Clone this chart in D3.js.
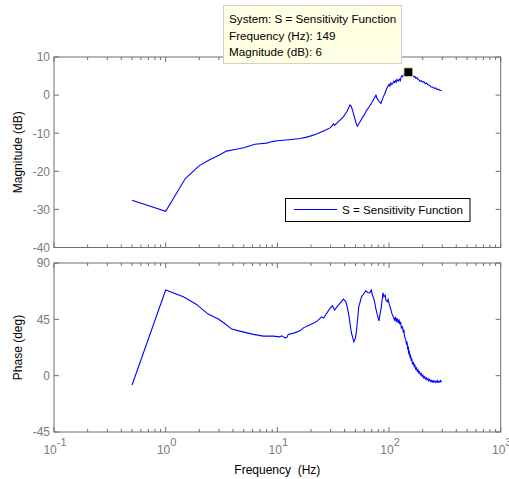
<!DOCTYPE html>
<html>
<head>
<meta charset="utf-8">
<script src="https://cdn.jsdelivr.net/npm/d3@7"></script>
<style>
  html, body { margin: 0; padding: 0; background: #fff; }
  svg { display: block; font-family: Arial, "Liberation Sans", sans-serif; }
</style>
</head>
<body>
<svg id="chart" width="509" height="479"></svg>
<script>
// ---------- data ----------
const seriesName = "S = Sensitivity Function";

const magFreq = [0.5, 1.0, 1.5, 2.0, 2.5, 3.0, 3.5, 4.3, 5.0, 6.3, 8.0, 9.0, 10, 12, 14, 16, 18, 20,
  22.5, 25, 27.5, 29.6, 31, 31.8, 32.5, 33.5, 36, 39, 42, 44.7, 46, 47.8, 50, 52, 54, 57, 60, 63, 66,
  70, 73, 76.4, 78, 81, 84.6, 88, 91.9, 95, 100, 102, 104, 106, 108, 110, 112, 114, 116, 118, 121,
  124, 126, 128, 130, 133, 135, 138, 141, 145, 149, 156, 160, 163, 167, 170, 174, 178, 182, 186, 190,
  195, 200, 205, 211, 217, 223, 230, 237, 245, 252, 260, 268, 278, 287, 296];
const magDb = [-27.6, -30.5, -21.9, -18.5, -16.9, -15.8, -14.7, -14.2, -13.8, -12.9, -12.6, -12.2, -12.0,
  -11.8, -11.6, -11.4, -11.1, -10.7, -10.2, -9.6, -9.1, -8.6, -8.0, -7.5, -7.9, -7.6, -6.7, -5.7, -4.3,
  -2.6, -3.0, -4.6, -6.8, -8.2, -7.4, -6.2, -5.2, -4.0, -3.2, -2.0, -1.0, 0.0, -0.8, -1.6, -2.2, -0.8,
  0.5, 1.6, 2.8, 2.4, 3.2, 2.8, 3.0, 3.6, 3.3, 3.8, 3.4, 4.1, 3.7, 4.2, 3.8, 4.6, 5.1, 4.8, 5.4, 5.2,
  5.8, 5.6, 6.0, 5.4, 5.0, 5.2, 4.7, 4.9, 4.4, 4.6, 4.1, 4.0, 3.6, 3.8, 3.4, 3.5, 3.0, 3.2, 2.7, 2.6,
  2.2, 2.1, 1.8, 1.9, 1.5, 1.5, 1.2, 1.2];

const phaseFreq = [0.5, 1.0, 1.44, 1.89, 2.4, 2.96, 3.4, 3.9, 4.6, 6.1, 7.5, 9.2, 10.5, 11.0, 11.7, 12.2,
  12.5, 14, 15.9, 17.1, 19, 21.7, 23, 24.9, 26, 27.5, 29.6, 31.1, 32.6, 34.5, 37, 39, 41.1, 42.5, 43.9,
  45, 46.2, 48.4, 50, 51.2, 53.6, 56.7, 59, 62, 64.5, 67.2, 69.5, 71, 72.5, 74.3, 76, 78, 80, 81.3, 83,
  85.4, 88.3, 90, 92.4, 94, 96.5, 98, 100, 103, 106, 109, 112, 114, 116, 118, 121, 123, 125, 127, 129,
  132, 134, 136, 138, 141, 143, 145, 147, 149, 150, 152, 154, 156, 158, 160, 162, 165, 168, 170, 173,
  176, 179, 182, 185, 188, 191, 194, 198, 201, 205, 208, 212, 215, 219, 223, 227, 231, 236, 240, 244,
  248, 252, 256, 261, 265, 269, 272, 276, 280, 284, 288, 292, 296];
const phaseDeg = [-7.5, 68.4, 63, 56.9, 49.2, 45.2, 41.5, 37.2, 35.6, 33, 31.6, 31.6, 31.0, 31.8, 30.2,
  30.6, 33, 34, 35.8, 38.2, 40, 42.5, 44, 47, 46, 49.5, 53.7, 55.8, 52.4, 55.5, 58.5, 61.2, 59, 54, 47,
  40, 33.7, 27, 30, 36.4, 55, 63, 65, 67.8, 66.5, 66.2, 68.4, 64, 62.5, 59, 54, 49.7, 46, 43.8, 49,
  55, 66.2, 63, 64.4, 60, 59, 61, 57.7, 54, 49.7, 47, 44.4, 47, 43, 46, 42, 45, 41, 43, 38,
  39, 35, 36, 31, 29, 25.7, 26.5, 21.5, 22.5, 18, 19, 15, 16, 12.4, 13.2, 9.5, 10.5, 7.5, 8.5, 5.5,
  6.3, 3.8, 4.6, 2.2, 3.0, 0.8, 1.6, -0.6, 0.4, -1.8, -0.8, -2.6, -1.6, -3.4, -2.4, -4.2, -3.0, -4.8, -3.8,
  -5.0, -4.0, -5.2, -4.2, -5.4, -4.4, -5.2, -4.0, -5.2, -4.6, -5.0, -3.8, -4.8, -4.2];

const magTicks = [-40, -30, -20, -10, 0, 10];
const phaseTicks = [-45, 0, 45, 90];
const decadeExps = [-1, 0, 1, 2, 3];

const tipFreq = 149, tipMag = 6;
const tipLines = ["System: S = Sensitivity Function", "Frequency (Hz): 149", "Magnitude (dB): 6"];

// ---------- layout ----------
const svg = d3.select("#chart");
const left = 54, right = 500.7;
const magTop = 57, magBot = 247.5;
const phTop = 263, phBot = 432;
const frameColor = "#6e6e6e";
const labelColor = "#7a7a7a";
const lineColor = "#0000ff";

const x = d3.scaleLog().domain([0.1, 1000]).range([left, right]);
const yMag = d3.scaleLinear().domain([-40, 10]).range([magBot, magTop]);
const yPh = d3.scaleLinear().domain([-45, 90]).range([phBot, phTop]);

const majorX = decadeExps.map(e => Math.pow(10, e));
const minorX = [];
for (let e = -1; e < 3; e++) for (let k = 2; k <= 9; k++) minorX.push(k * Math.pow(10, e));

function drawAxes(y, top, bot, ticks, withXLabels) {
  const g = svg.append("g");
  g.append("rect").attr("x", left).attr("y", top).attr("width", right - left).attr("height", bot - top)
    .attr("fill", "#fff").attr("stroke", frameColor).attr("stroke-width", 1);
  const tk = g.append("g").attr("stroke", frameColor).attr("stroke-width", 1);
  majorX.forEach(v => {
    const px = x(v);
    tk.append("line").attr("x1", px).attr("x2", px).attr("y1", bot).attr("y2", bot - 5);
    tk.append("line").attr("x1", px).attr("x2", px).attr("y1", top).attr("y2", top + 5);
  });
  minorX.forEach(v => {
    const px = x(v);
    tk.append("line").attr("x1", px).attr("x2", px).attr("y1", bot).attr("y2", bot - 3);
    tk.append("line").attr("x1", px).attr("x2", px).attr("y1", top).attr("y2", top + 3);
  });
  ticks.forEach(v => {
    const py = y(v);
    tk.append("line").attr("x1", left).attr("x2", left + 5).attr("y1", py).attr("y2", py);
    tk.append("line").attr("x1", right).attr("x2", right - 5).attr("y1", py).attr("y2", py);
    g.append("text").attr("x", left - 4).attr("y", py + 4.3).attr("text-anchor", "end")
      .attr("font-size", 12).attr("fill", labelColor).text(v);
  });
  if (withXLabels) {
    decadeExps.forEach(e => {
      const t = g.append("text").attr("x", x(Math.pow(10, e)) + 1).attr("y", bot + 21.5)
        .attr("text-anchor", "middle").attr("font-size", 12).attr("fill", labelColor);
      t.append("tspan").text("10");
      t.append("tspan").attr("dy", -7.5).attr("font-size", 11).text(e);
    });
  }
  return g;
}

drawAxes(yMag, magTop, magBot, magTicks, false);
drawAxes(yPh, phTop, phBot, phaseTicks, true);

// curves
const magLine = d3.line().x(d => x(d[0])).y(d => yMag(d[1]));
const phLine = d3.line().x(d => x(d[0])).y(d => yPh(d[1]));
svg.append("path").datum(d3.zip(magFreq, magDb)).attr("d", magLine)
  .attr("fill", "none").attr("stroke", lineColor).attr("stroke-width", 1.1);
svg.append("path").datum(d3.zip(phaseFreq, phaseDeg)).attr("d", phLine)
  .attr("fill", "none").attr("stroke", lineColor).attr("stroke-width", 1.1);

// axis labels
svg.append("text").attr("transform", `translate(22,${(magTop + magBot) / 2}) rotate(-90)`)
  .attr("text-anchor", "middle").attr("font-size", 12).attr("fill", "#000").text("Magnitude (dB)");
svg.append("text").attr("transform", `translate(22,${(phTop + phBot) / 2}) rotate(-90)`)
  .attr("text-anchor", "middle").attr("font-size", 12).attr("fill", "#000").text("Phase (deg)");
svg.append("text").attr("x", (left + right) / 2).attr("y", 474).attr("text-anchor", "middle")
  .attr("font-size", 12).attr("fill", "#000").attr("xml:space", "preserve").text("Frequency  (Hz)");

// legend
const lg = svg.append("g");
lg.append("rect").attr("x", 285.5).attr("y", 198.5).attr("width", 184.5).attr("height", 23)
  .attr("fill", "#fff").attr("stroke", "#000").attr("stroke-width", 1);
lg.append("line").attr("x1", 294).attr("x2", 337).attr("y1", 209.5).attr("y2", 209.5)
  .attr("stroke", lineColor).attr("stroke-width", 1.1);
lg.append("text").attr("x", 342).attr("y", 214).attr("font-size", 11.6).attr("fill", "#000").text(seriesName);

// data tip marker
svg.append("rect").attr("x", x(tipFreq) - 4.5).attr("y", yMag(tipMag) - 4.5).attr("width", 9).attr("height", 9)
  .attr("fill", "#000").attr("stroke", "#f4f0c8").attr("stroke-width", 1);

// tooltip
const tip = svg.append("g");
tip.append("rect").attr("x", 223.5).attr("y", 5.5).attr("width", 178).attr("height", 58)
  .attr("fill", "#ffffe3").attr("stroke", "#cfcfcf").attr("stroke-width", 1);
tipLines.forEach((s, i) => {
  tip.append("text").attr("x", 229).attr("y", 23 + i * 16.5).attr("font-size", 11.7)
    .attr("fill", "#000").text(s);
});
</script>
</body>
</html>
